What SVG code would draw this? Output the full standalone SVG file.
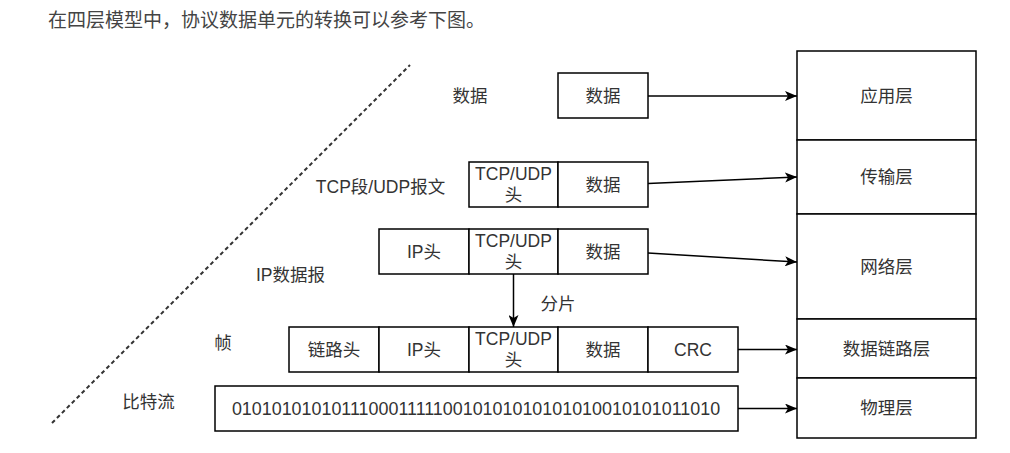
<svg xmlns="http://www.w3.org/2000/svg" width="1010" height="453" viewBox="0 0 1010 453">
<style>
text{font-family:"Liberation Sans","Noto Sans CJK SC",sans-serif;font-size:17.5px;fill:#333;text-anchor:middle;dominant-baseline:central}
.title{font-size:19px;fill:#444;text-anchor:start;dominant-baseline:auto}
.bits{font-size:17.9px}
.box{fill:#fff;stroke:#000;stroke-width:1.5}
.conn{fill:none;stroke:#000;stroke-width:1.5}
.dash{fill:none;stroke:#333;stroke-width:2;stroke-dasharray:4 3}
</style>
<defs>
<marker id="arr" viewBox="0 0 12 10" refX="12" refY="5" markerWidth="12" markerHeight="10" markerUnits="userSpaceOnUse" orient="auto">
<path d="M0,0 L12,5 L0,10 L3,5 z" fill="#000"/>
</marker>
</defs>
<rect width="1010" height="453" fill="#fff"/>
<text class="title" x="48" y="27">在四层模型中，协议数据单元的转换可以参考下图。</text>

<line class="dash" x1="52" y1="423" x2="410" y2="65"/>

<g id="labels">
<text x="470" y="96">数据</text>
<text x="380.5" y="187">TCP段/UDP报文</text>
<text x="290.5" y="275">IP数据报</text>
<text x="223" y="343">帧</text>
<text x="148.5" y="402">比特流</text>
<text x="558" y="304">分片</text>
</g>

<g id="layers">
<g id="app"><rect class="box" x="797" y="51" width="179" height="89"/><text x="886.5" y="95.5">应用层</text></g>
<g id="transport"><rect class="box" x="797" y="140" width="179" height="74"/><text x="886.5" y="177">传输层</text></g>
<g id="network"><rect class="box" x="797" y="214" width="179" height="105"/><text x="886.5" y="266.5">网络层</text></g>
<g id="datalink"><rect class="box" x="797" y="319" width="179" height="59"/><text x="886.5" y="348.5">数据链路层</text></g>
<g id="physical"><rect class="box" x="797" y="378" width="179" height="60"/><text x="886.5" y="408">物理层</text></g>
</g>

<g id="row-data">
<rect class="box" x="558" y="73" width="90" height="45"/><text x="603" y="95.5">数据</text>
</g>

<g id="row-segment">
<rect class="box" x="469" y="162" width="89" height="45"/>
<text x="513.5" y="174">TCP/UDP</text><text x="513.5" y="195">头</text>
<rect class="box" x="558" y="162" width="90" height="45"/><text x="603" y="184.5">数据</text>
</g>

<g id="row-datagram">
<rect class="box" x="379" y="229" width="90" height="45"/><text x="424" y="251.5">IP头</text>
<rect class="box" x="469" y="229" width="89" height="45"/>
<text x="513.5" y="241">TCP/UDP</text><text x="513.5" y="262">头</text>
<rect class="box" x="558" y="229" width="90" height="45"/><text x="603" y="251.5">数据</text>
</g>

<g id="row-frame">
<rect class="box" x="289" y="327" width="90" height="45"/><text x="334" y="349.5">链路头</text>
<rect class="box" x="379" y="327" width="90" height="45"/><text x="424" y="349.5">IP头</text>
<rect class="box" x="469" y="327" width="89" height="45"/>
<text x="513.5" y="339">TCP/UDP</text><text x="513.5" y="360">头</text>
<rect class="box" x="558" y="327" width="90" height="45"/><text x="603" y="349.5">数据</text>
<rect class="box" x="648" y="327" width="90" height="45"/><text x="693" y="349.5">CRC</text>
</g>

<g id="row-bits">
<rect class="box" x="215" y="386" width="523" height="45"/>
<text class="bits" x="476" y="408.5">01010101010111000111110010101010101010010101011010</text>
</g>

<g id="connectors">
<line class="conn" x1="648" y1="96" x2="797" y2="96" marker-end="url(#arr)"/>
<line class="conn" x1="648" y1="183.5" x2="797" y2="177" marker-end="url(#arr)"/>
<line class="conn" x1="648" y1="253" x2="797" y2="262" marker-end="url(#arr)"/>
<line class="conn" x1="738" y1="349.5" x2="797" y2="349.5" marker-end="url(#arr)"/>
<line class="conn" x1="738" y1="408.5" x2="797" y2="408.5" marker-end="url(#arr)"/>
<line class="conn" x1="513.5" y1="274" x2="513.5" y2="327" marker-end="url(#arr)"/>
</g>
</svg>
